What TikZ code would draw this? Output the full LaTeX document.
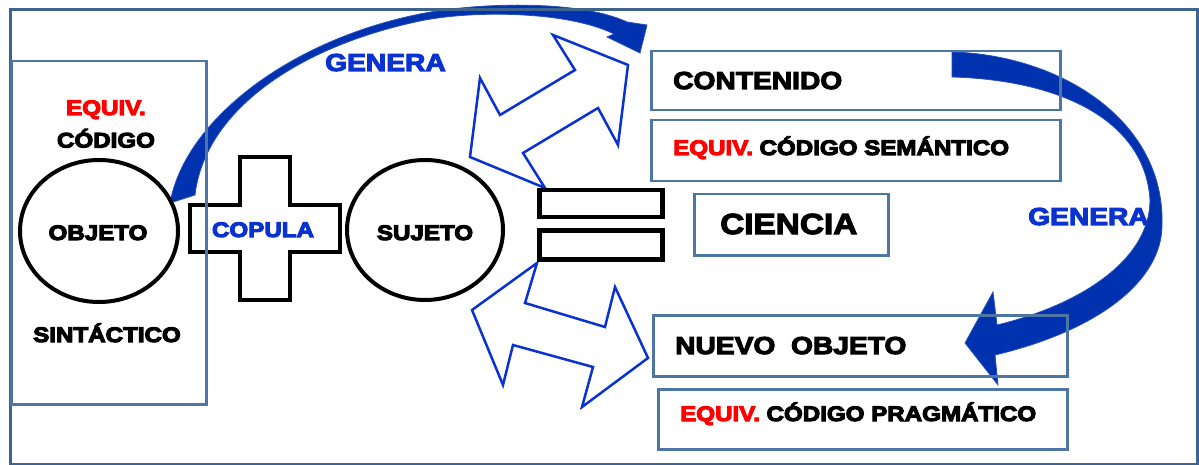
\documentclass[tikz,border=0pt]{standalone}
\usepackage{fontspec}
\setmainfont{Liberation Sans}
\newfontfamily\wf[FakeStretch=1.15]{Liberation Sans}
\newcommand{\hv}[2]{\textcolor{#1}{\special{pdf:code 2 Tr 1.1 w}#2\special{pdf:code 0 Tr}}}
\usetikzlibrary{shapes.geometric}
\definecolor{framec}{HTML}{3F6391}
\definecolor{boxc}{HTML}{4E76A4}
\definecolor{abl}{HTML}{0032B0}
\definecolor{tblue}{HTML}{0A32D0}
\definecolor{dblc}{HTML}{0A32D0}
\tikzset{
  txt/.style={font=\wf\bfseries, inner sep=0pt, anchor=base},
  txtw/.style={font=\wf\bfseries, inner sep=0pt, anchor=base west},
  sA/.style={font=\wf\bfseries\fontsize{21}{25}\selectfont},
  sB/.style={font=\wf\bfseries\fontsize{24.5}{29}\selectfont},
  sC/.style={font=\wf\bfseries\fontsize{29}{34}\selectfont},
  box/.style={draw=boxc, line width=2.5pt, inner sep=0pt, anchor=north west},
  ring/.style={draw=black, line width=4pt, ellipse, inner sep=0pt},
  heavy/.style={draw=black, line width=4.5pt, line join=miter},
  eqbar/.style={draw=black, line width=4.5pt, inner sep=0pt, anchor=north west},
  dbl/.style={draw=dblc, line width=2.5pt, fill=white, line join=miter},
  band/.style={fill=abl, draw=abl!85!white, line width=0.8pt}
}
\begin{document}
\begin{tikzpicture}[x=1pt,y=-1pt]
\useasboundingbox (0,0) rectangle (1199,465);
\fill[white] (0,0) rectangle (1199,465);
% top curved arrow
\path[band] (170,203) .. controls (185,120) and (290,40) .. (420,14)
  .. controls (480,2) and (580,0) .. (627,22) -- (647,25) -- (640,53) -- (607,37) -- (614,34)
  .. controls (570,12) and (480,10) .. (425,20)
  .. controls (300,45) and (205,110) .. (195,195) -- cycle;
% outer frame
\draw[framec, line width=3pt] (10,10) rectangle (1197,464);
% right curved arrow
\path[band] (952,52) .. controls (1060,55) and (1165,120) .. (1162,225)
  .. controls (1162,280) and (1100,330) .. (995,355) -- (998,385) -- (965,343) -- (993,292) -- (997,325)
  .. controls (1080,305) and (1150,260) .. (1150,200)
  .. controls (1145,120) and (1060,80) .. (952,77) -- cycle;
% double arrows
\draw[dbl] (628,65) -- (618,145) -- (598,108) -- (523,153) -- (545,188) -- (470,157) -- (480,78) -- (500,115) -- (575,70) -- (553,35) -- cycle;
\draw[dbl] (537,263) -- (525,303) -- (605,327) -- (615,287) -- (648,358) -- (582,407) -- (593,367) -- (513,345) -- (503,385) -- (472,310) -- cycle;
% plus
\draw[heavy] (240,157) -- (290,157) -- (290,205) -- (340,205) -- (340,252) -- (290,252) -- (290,300) -- (240,300) -- (240,252) -- (190,252) -- (190,205) -- (240,205) -- cycle;
% left box
\node[box, minimum width=195, minimum height=343] (leftbox) at (10,60) {};
% circles
\node[ring, minimum width=158, minimum height=142] (objeto) at (99,231) {};
\node[ring, minimum width=156, minimum height=140] (sujeto) at (425,230) {};
% equals
\node[eqbar, minimum width=123, minimum height=27] (eq1) at (537,188) {};
\node[eqbar, minimum width=123, minimum height=29] (eq2) at (537,228) {};
% right boxes
\node[box, minimum width=409, minimum height=59] (contbox) at (650,50) {};
\node[box, minimum width=409, minimum height=61] (sembox) at (650,119) {};
\node[box, minimum width=194, minimum height=61] (cienbox) at (693,193) {};
\node[box, minimum width=414, minimum height=61] (nuevobox) at (652,314) {};
\node[box, minimum width=409, minimum height=60] (pragbox) at (657,388) {};
% texts
\node[txt, sA] (t1) at (106,115) {\hv{red}{EQUIV.}};
\node[txt, sA] (t2) at (106,147.5) {\hv{black}{CÓDIGO}};
\node[txt, sA] (t3) at (107,342) {\hv{black}{SINTÁCTICO}};
\node[txt, sA] (t4) at (98,240) {\hv{black}{OBJETO}};
\node[txt, sA] (t5) at (263,237) {\hv{tblue}{COPULA}};
\node[txt, sA] (t6) at (425,240) {\hv{black}{SUJETO}};
\node[txtw, sB] (g1) at (325,71) {\hv{tblue}{GENERA}};
\node[txtw, sB] (g2) at (1028,225) {\hv{tblue}{GENERA}};
\node[txtw, sB] (t7) at (673,89) {\hv{black}{CONTENIDO}};
\node[txtw, sA] (t8) at (673,155) {\hv{red}{EQUIV.} \hv{black}{CÓDIGO SEMÁNTICO}};
\node[txtw, sC] (t9) at (720,234) {\hv{black}{CIENCIA}};
\node[txtw, sB] (t10) at (675,354) {\hv{black}{NUEVO\ \ OBJETO}};
\node[txtw, sA] (t11) at (680,421) {\hv{red}{EQUIV.} \hv{black}{CÓDIGO PRAGMÁTICO}};
\end{tikzpicture}
\end{document}
